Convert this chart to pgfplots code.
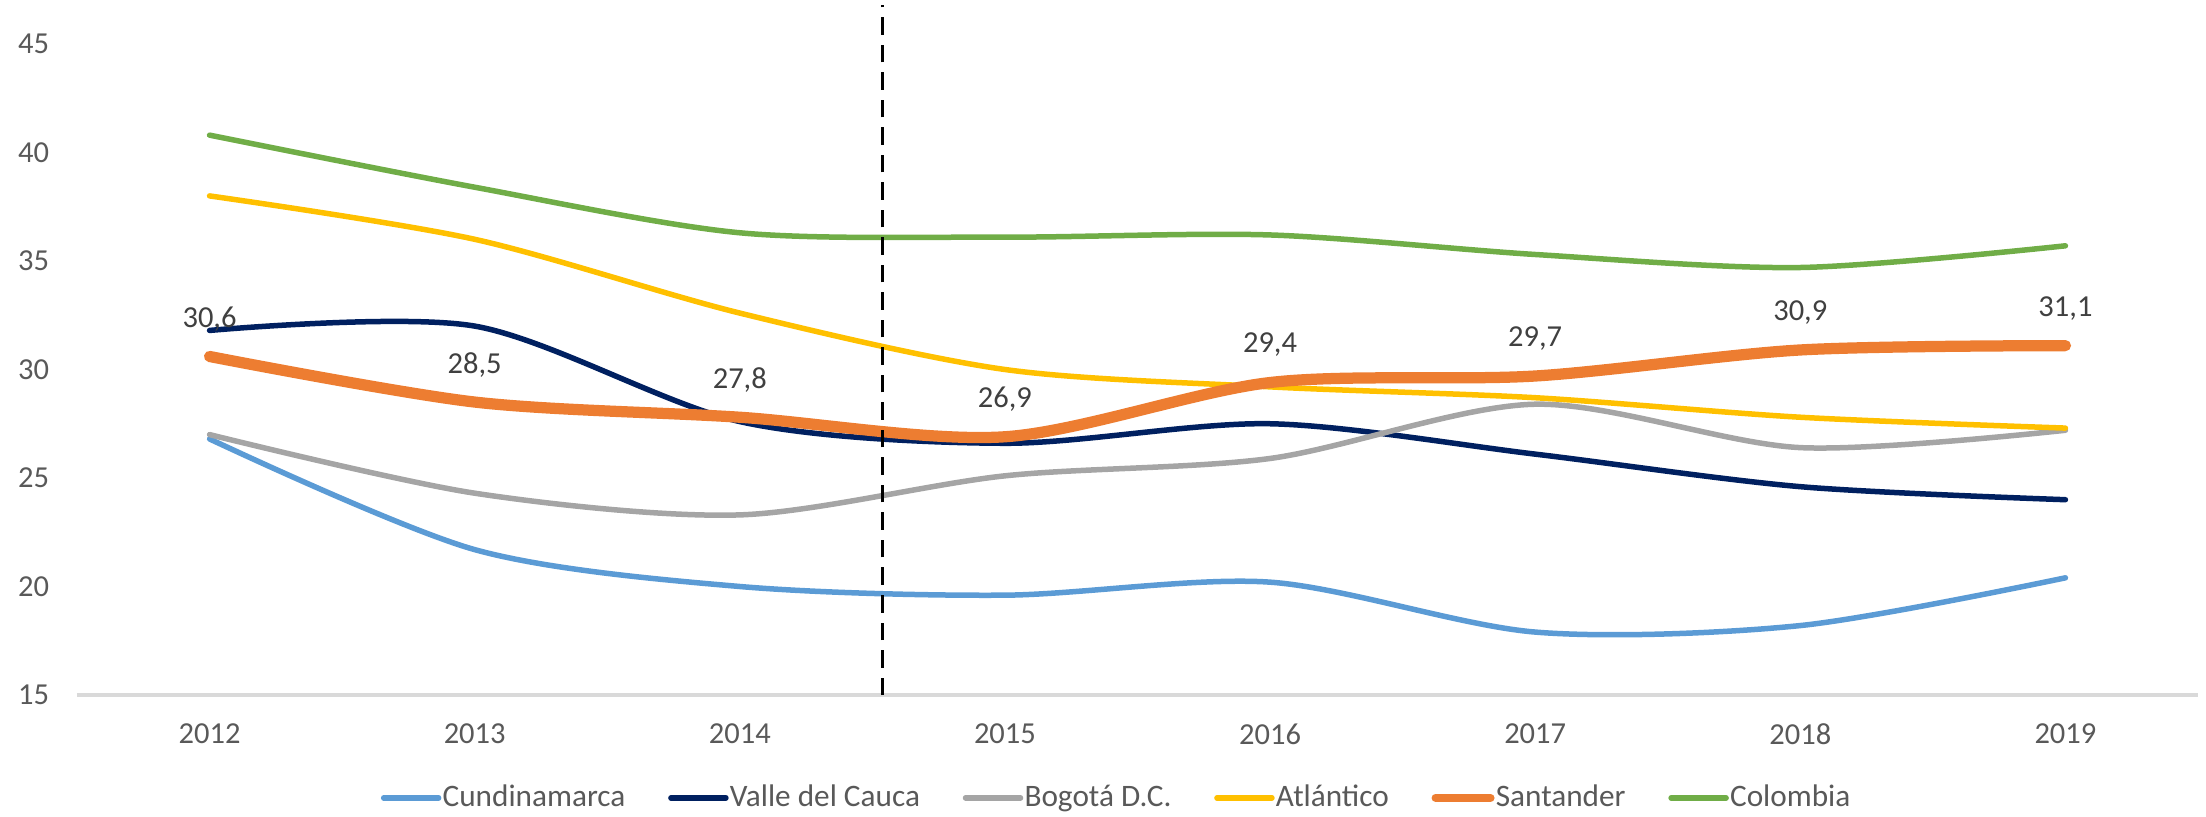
\documentclass[border=0pt]{standalone}
\usepackage{fontspec}
\setmainfont{Carlito}
\usepackage{pgfplots}
\usepackage{pgfplotstable}
\pgfplotsset{compat=1.18}
\definecolor{cCund}{HTML}{5B9BD5}
\definecolor{cValle}{HTML}{002060}
\definecolor{cBog}{HTML}{A5A5A5}
\definecolor{cAtl}{HTML}{FFC000}
\definecolor{cSant}{HTML}{ED7D31}
\definecolor{cCol}{HTML}{70AD47}
\definecolor{cTick}{HTML}{595959}
\definecolor{cLab}{HTML}{404040}
\definecolor{cAxis}{HTML}{D9D9D9}
% x: 0=2012 ... 7=2019
\pgfplotstableread{
x Cund Valle Bog Atl Sant Col
0 26.8 31.8 27.0 38.0 30.6 40.8
1 21.7 32.0 24.3 36.0 28.5 38.4
2 20.0 27.6 23.3 32.6 27.8 36.3
3 19.6 26.6 25.1 30.0 26.9 36.1
4 20.2 27.5 25.9 29.2 29.4 36.2
5 17.9 26.1 28.4 28.7 29.7 35.3
6 18.2 24.6 26.4 27.8 30.9 34.7
7 20.4 24.0 27.2 27.3 31.1 35.7
}\datatable
\begin{document}
\begin{tikzpicture}
\begin{axis}[
  name=ax, at={(0,0)}, anchor=south west,
  scale only axis, width=848.4pt, height=260.4pt,
  xmin=-0.5, xmax=7.5, ymin=15, ymax=45,
  enlargelimits=false, clip=false,
  xtick={0,...,7}, xticklabels={2012,2013,2014,2015,2016,2017,2018,2019},
  ytick={15,20,...,45},
  axis x line*=bottom, axis y line*=left,
  x axis line style={draw=cAxis, line width=1.3pt, -},
  y axis line style={draw=none},
  major tick length=0pt,
  /pgf/number format/assume math mode=true,
  tick label style={font=\fontsize{12.2}{14}\selectfont, text=cTick},
  yticklabel style={xshift=-7.6pt},
  xticklabel style={yshift=-8pt},
  legend columns=6,
  legend style={at={(0.49,-0.158)}, anchor=center, draw=none, fill=none,
    font=\fontsize{12.5}{14}\selectfont, text=cTick,
    /tikz/every even column/.append style={column sep=16.6pt},
    nodes={inner sep=0.5pt}},
  legend image code/.code={\draw[#1] (0pt,0pt) -- (22pt,0pt);},
  every axis plot/.append style={smooth, no markers, line cap=round},
]
\addplot[cCund, line width=2.2pt] table[x=x,y=Cund] {\datatable};
\addlegendentry{Cundinamarca}
\addplot[cValle, line width=2.2pt] table[x=x,y=Valle] {\datatable};
\addlegendentry{Valle del Cauca}
\addplot[cBog, line width=2.2pt] table[x=x,y=Bog] {\datatable};
\addlegendentry{Bogotá D.C.}
\addplot[cAtl, line width=2.2pt] table[x=x,y=Atl] {\datatable};
\addlegendentry{Atlántico}
\addplot[cSant, line width=4.5pt, legend image post style={line width=3.2pt},
  nodes near coords, point meta=y,
  nodes near coords style={anchor=center, yshift=15pt, text=cLab,
    font=\fontsize{12.2}{14}\selectfont,
    /pgf/number format/.cd, fixed, fixed zerofill, precision=1, use comma}
  ] table[x=x,y=Sant] {\datatable};
\addlegendentry{Santander}
\addplot[cCol, line width=2.2pt] table[x=x,y=Col] {\datatable};
\addlegendentry{Colombia}
\addplot[black, line width=1.2pt, dash pattern=on 7pt off 4pt, forget plot, line cap=butt, sharp plot]
  coordinates {(2.54,15) (2.54,46.8)};
\end{axis}
\pgfresetboundingbox
\path[use as bounding box] (-30.8pt,-48.4pt) rectangle (851.6pt,278pt);
\end{tikzpicture}
\end{document}
